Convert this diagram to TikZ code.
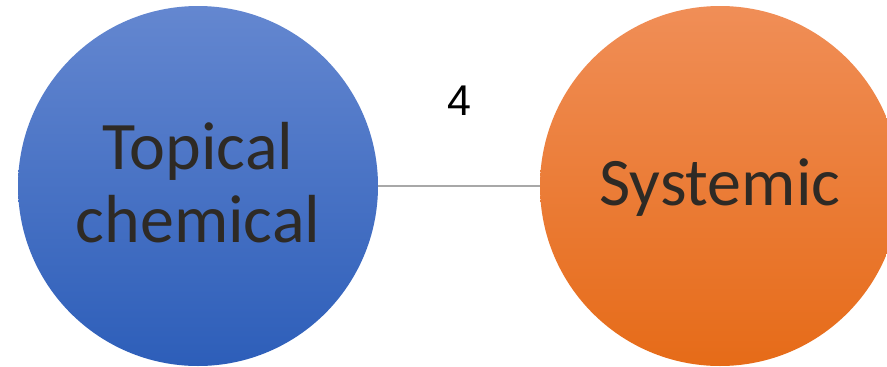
\documentclass[tikz,border=0pt]{standalone}
\usepackage{fontspec}
\setmainfont{Carlito}
\newfontfamily\digitfont{Liberation Sans}
\definecolor{bluetop}{HTML}{6487D0}
\definecolor{bluebot}{HTML}{2D5EB9}
\definecolor{orgtop}{HTML}{F08E57}
\definecolor{orgbot}{HTML}{E66B18}
\definecolor{txt}{HTML}{2E2A25}
\definecolor{linkgray}{HTML}{A8A8A8}
\tikzset{
  bubble/.style={circle, minimum size=360pt, inner sep=0pt, draw=none},
  bubbletext/.style={align=center, inner sep=0pt, text=txt, font=\fontsize{68}{73}\selectfont},
  link/.style={draw=linkgray, line width=1.3pt},
  linklabel/.style={font=\digitfont\fontsize{43}{43}\selectfont, text=black, inner sep=0pt}
}
\begin{document}
\begin{tikzpicture}[x=1pt,y=-1pt]
\useasboundingbox (0,0) rectangle (887,367);
\clip (0,0) rectangle (887,367);
\node[bubble, top color=bluetop, bottom color=bluebot] (topical) at (198,186) {};
\node[bubble, top color=orgtop, bottom color=orgbot] (systemic) at (720,186) {};
\node[bubbletext] (topicaltext) at (198,183) {Topical\\chemical};
\node[bubbletext] (systemictext) at (720,188) {Systemic};
\draw[link] (topical.east) -- (systemic.west);
\node[linklabel] (four) at (459,101) {4};
\end{tikzpicture}
\end{document}
